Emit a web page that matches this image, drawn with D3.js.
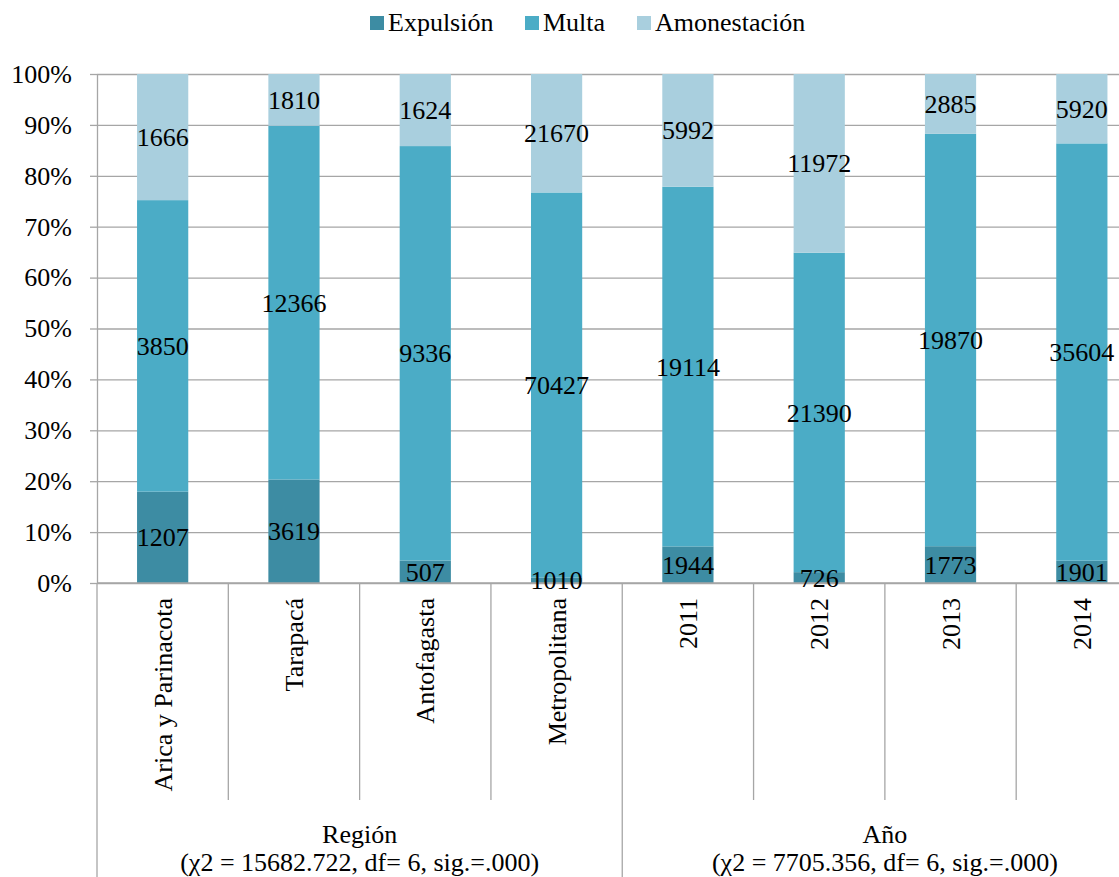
<!DOCTYPE html>
<html>
<head>
<meta charset="utf-8">
<script src="https://cdn.jsdelivr.net/npm/d3@7"></script>
<style>
  body { margin: 0; background: #fff; }
  svg text { font-family: "Liberation Serif", "Times New Roman", serif; fill: #000; }
</style>
</head>
<body>
<svg id="chart" width="1119" height="877"></svg>
<script>
// data
var categories = ["Arica y Parinacota", "Tarapacá", "Antofagasta", "Metropolitana", "2011", "2012", "2013", "2014"];
var seriesNames = ["Expulsión", "Multa", "Amonestación"];
var expulsion = [1207, 3619, 507, 1010, 1944, 726, 1773, 1901];
var multa = [3850, 12366, 9336, 70427, 19114, 21390, 19870, 35604];
var amonestacion = [1666, 1810, 1624, 21670, 5992, 11972, 2885, 5920];
var yTicks = [0, 0.1, 0.2, 0.3, 0.4, 0.5, 0.6, 0.7, 0.8, 0.9, 1];
var groupNames = ["Región", "Año"];
var groupStats = ["(χ2 = 15682.722, df= 6, sig.=.000)", "(χ2 = 7705.356, df= 6, sig.=.000)"];
var groupCats = [categories.slice(0, 4), categories.slice(4)];
var colors = ["#3d8ca3", "#4bacc6", "#a9cfde"];

var svg = d3.select("#chart"),
  left = 97,
  plotTop = 74,
  bottom = 583,
  plotRight = 1147.5,   // the plot runs past the picture's right edge
  W = +svg.attr("width");

var rows = categories.map(function (c, i) {
  var r = { name: c };
  r[seriesNames[0]] = expulsion[i];
  r[seriesNames[1]] = multa[i];
  r[seriesNames[2]] = amonestacion[i];
  return r;
});

var stack = d3.stack().keys(seriesNames).offset(d3.stackOffsetExpand)(rows);

var x = d3.scaleBand().domain(categories).range([left, plotRight]).padding(0);
var y = d3.scaleLinear().domain([0, 1]).range([bottom, plotTop]);
var z = d3.scaleOrdinal().domain(seriesNames).range(colors);
var barW = x.bandwidth() * 0.39;

// gridlines
svg.append("g")
  .attr("transform", "translate(" + left + ",0)")
  .call(d3.axisLeft(y).tickValues(yTicks).tickSize(-(W - left)).tickFormat(""))
  .call(function (g) {
    g.select(".domain").remove();
    g.selectAll("line").attr("stroke", "#a6a6a6").attr("stroke-width", 1.3);
  });

// bars
svg.append("g")
  .selectAll("g")
  .data(stack)
  .enter().append("g")
  .attr("fill", function (d) { return z(d.key); })
  .selectAll("rect")
  .data(function (d) { return d; })
  .enter().append("rect")
  .attr("x", function (d) { return x(d.data.name) + (x.bandwidth() - barW) / 2; })
  .attr("y", function (d) { return y(d[1]); })
  .attr("width", barW)
  .attr("height", function (d) { return y(d[0]) - y(d[1]); });

// y axis
svg.append("g")
  .attr("transform", "translate(" + left + ",0)")
  .call(d3.axisLeft(y).tickValues(yTicks).tickSizeInner(7).tickSizeOuter(0).tickPadding(18)
    .tickFormat(d3.format(".0%")))
  .call(function (g) {
    g.select(".domain").attr("stroke", "#a6a6a6").attr("stroke-width", 1.3);
    g.selectAll("line").attr("stroke", "#a6a6a6").attr("stroke-width", 1.3);
    g.selectAll("text").attr("font-size", 26).attr("font-family", "Liberation Serif");
  });

// category axis line
svg.append("line")
  .attr("x1", left).attr("x2", W)
  .attr("y1", bottom).attr("y2", bottom)
  .attr("stroke", "#a6a6a6").attr("stroke-width", 1.3);

// value labels
svg.append("g")
  .selectAll("g")
  .data(stack)
  .enter().append("g")
  .selectAll("text")
  .data(function (d) { return d.map(function (p) { return { p: p, key: d.key }; }); })
  .enter().append("text")
  .attr("x", function (d) { return x(d.p.data.name) + x.bandwidth() / 2; })
  .attr("y", function (d) { return y((d.p[0] + d.p[1]) / 2); })
  .attr("dy", "0.35em")
  .attr("text-anchor", "middle")
  .attr("font-size", 26)
  .text(function (d) { return d.p.data[d.key]; });

// category separators (long ones between groups)
var bounds = categories.map(function (c) { return x(c); }).concat([plotRight]);
svg.append("g")
  .selectAll("line")
  .data(bounds)
  .enter().append("line")
  .attr("x1", function (d) { return d; })
  .attr("x2", function (d) { return d; })
  .attr("y1", bottom)
  .attr("y2", function (d, i) { return (i === 0 || i === 4 || i === 8) ? 877 : 800; })
  .attr("stroke", "#a6a6a6").attr("stroke-width", 1.3);

// category labels
svg.append("g")
  .selectAll("text")
  .data(categories)
  .enter().append("text")
  .attr("transform", function (d) {
    return "translate(" + (x(d) + x.bandwidth() / 2) + ",598) rotate(-90)";
  })
  .attr("dy", "0.35em")
  .attr("text-anchor", "end")
  .attr("font-size", 26)
  .text(function (d) { return d; });

// group labels
var grp = svg.append("g")
  .selectAll("g")
  .data(groupNames)
  .enter().append("g")
  .attr("transform", function (d, i) {
    var cs = groupCats[i];
    var x0 = x(cs[0]), x1 = x(cs[cs.length - 1]) + x.bandwidth();
    return "translate(" + ((x0 + x1) / 2) + ",0)";
  });
grp.append("text")
  .attr("y", 843).attr("text-anchor", "middle").attr("font-size", 26)
  .text(function (d) { return d; });
grp.append("text")
  .attr("y", 871).attr("text-anchor", "middle").attr("font-size", 26)
  .text(function (d, i) { return groupStats[i]; });

// legend
var legendX = [370, 525, 637];
var legend = svg.append("g")
  .selectAll("g")
  .data(seriesNames)
  .enter().append("g")
  .attr("transform", function (d, i) { return "translate(" + legendX[i] + ",0)"; });
legend.append("rect")
  .attr("y", 16).attr("width", 14).attr("height", 14)
  .attr("fill", z);
legend.append("text")
  .attr("x", 18).attr("y", 31)
  .attr("font-size", 26)
  .text(function (d) { return d; });
</script>
</body>
</html>
